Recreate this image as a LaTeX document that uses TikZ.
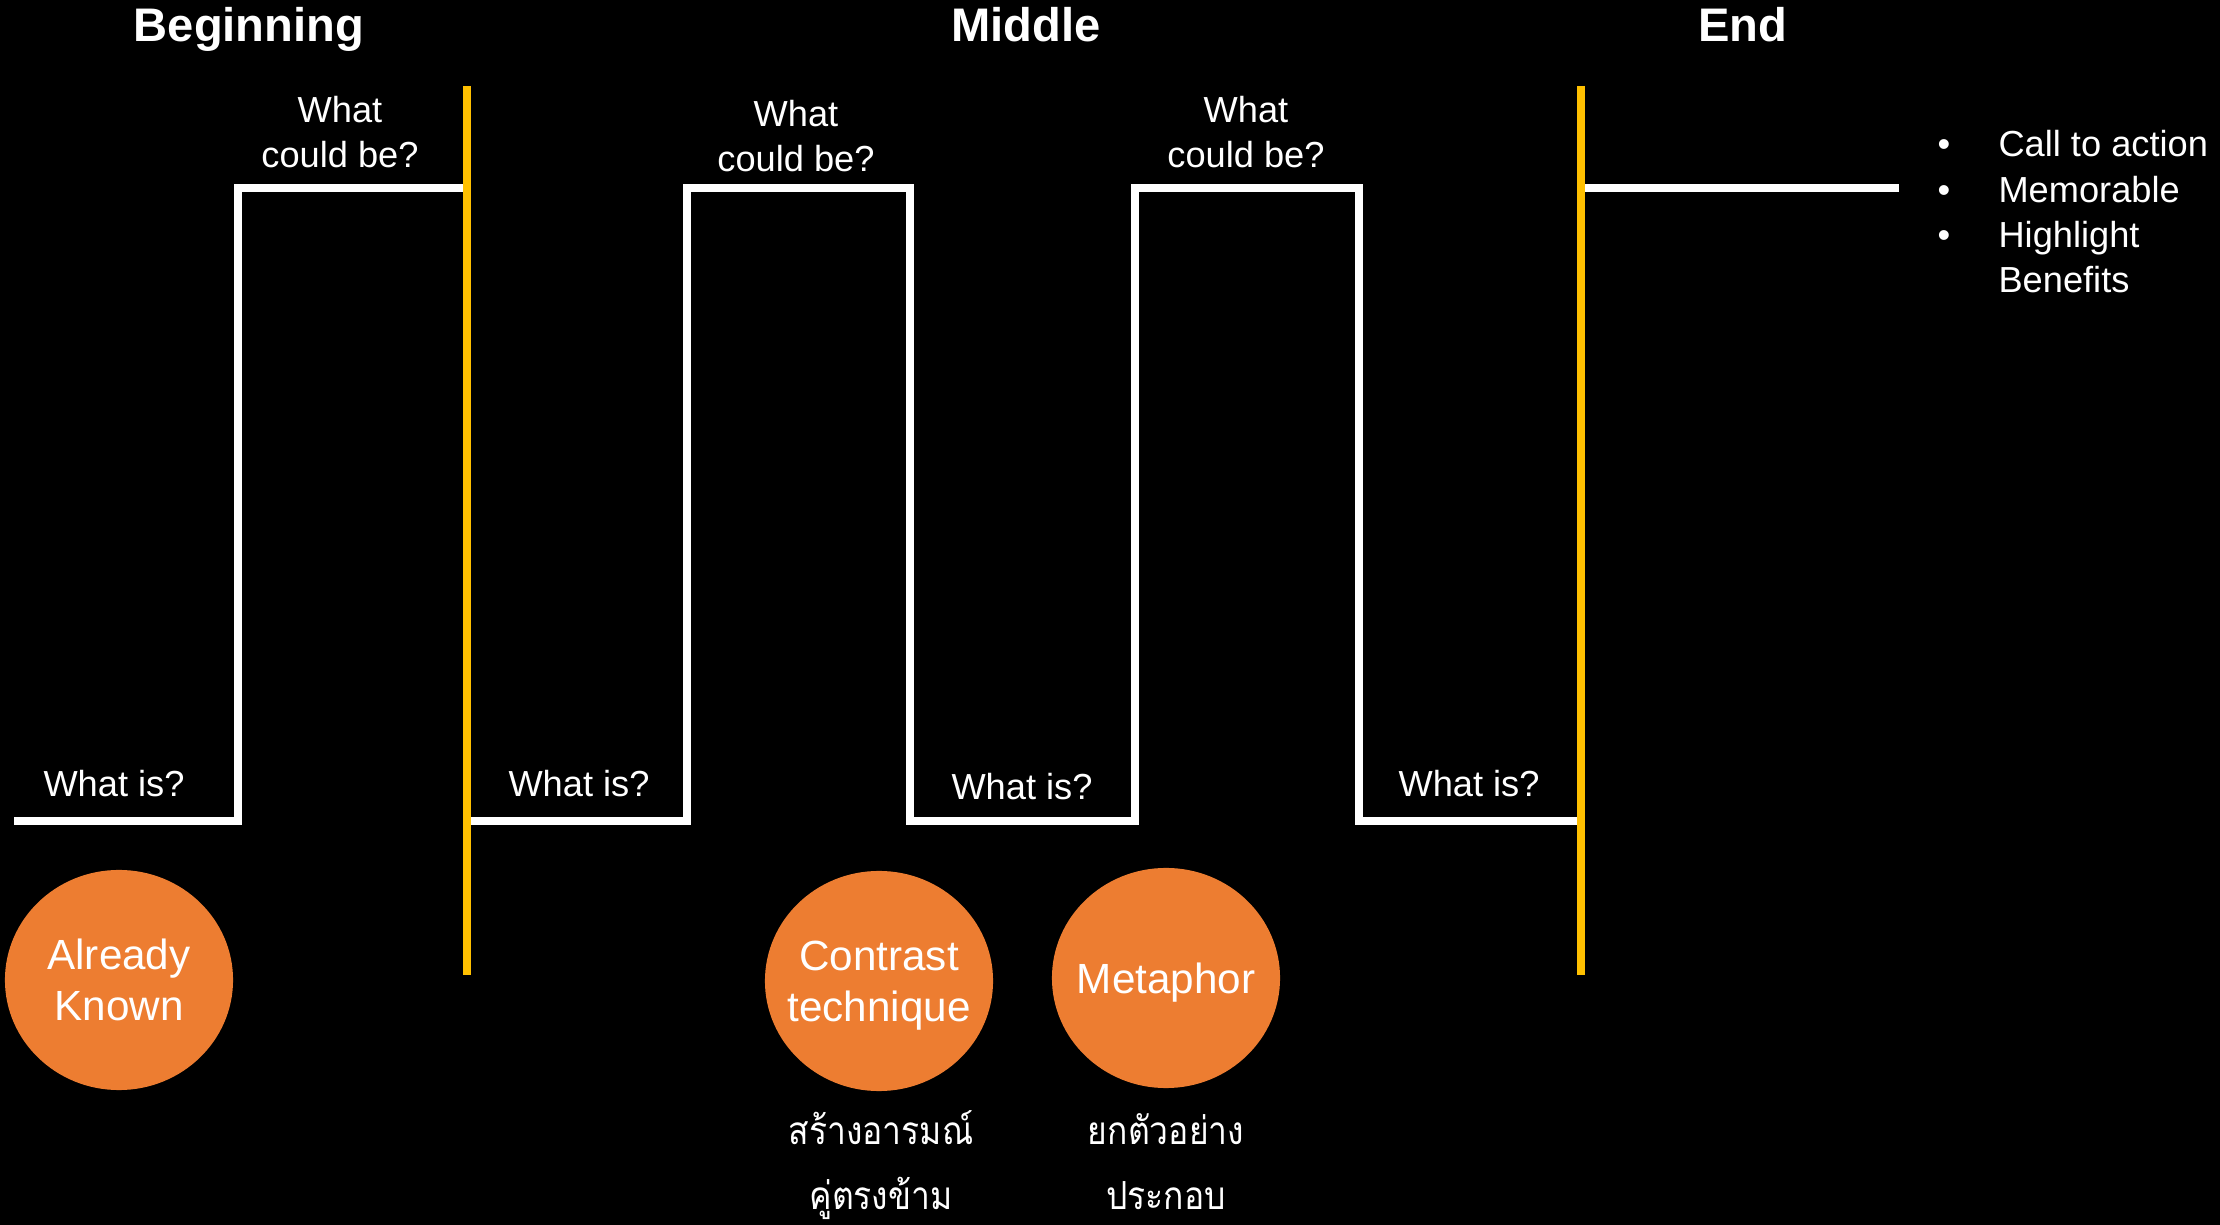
\documentclass[tikz,border=0pt]{standalone}
\usepackage{fontspec}
\setmainfont{Liberation Sans}
\newfontfamily\thaifont[Script=Thai,FakeStretch=0.87]{Loma}
\usetikzlibrary{shapes.geometric}
\definecolor{gold}{HTML}{FFC000}
\definecolor{bubbleorange}{HTML}{ED7D31}
\tikzset{
  wave/.style={draw=white, line width=2pt, line join=miter},
  divider/.style={draw=gold, line width=2pt},
  lbl/.style={text=white, inner sep=0pt, align=center, font=\fontsize{10.3}{12.8}\selectfont},
  heading/.style={text=white, inner sep=0pt, font=\bfseries\fontsize{13.4}{16}\selectfont},
  bubble/.style={ellipse, fill=bubbleorange, text=white, inner sep=-30pt,
    minimum width=2.28cm, minimum height=2.2cm, align=center, text depth=0pt,
    font=\fontsize{12}{14.5}\selectfont},
  thai/.style={text=white, inner sep=0pt, font=\thaifont\fontsize{11}{13}\selectfont}
}
\begin{document}
\begin{tikzpicture}[x=0.01cm, y=-0.01cm]
\fill[black] (0,0) rectangle (2220,1225);
\useasboundingbox (0,0) rectangle (2220,1225);

% headings
\node[heading, anchor=base] (hbeg) at (249,42) {Beginning};
\node[heading, anchor=base] (hmid) at (1026,42) {Middle};
\node[heading, anchor=base] (hend) at (1743,42) {End};

% step wave
\draw[wave] (14,821) -- (238,821) -- (238,188) -- (467,188) -- (467,821)
  -- (687,821) -- (687,188) -- (910,188) -- (910,821) -- (1135,821)
  -- (1135,188) -- (1359,188) -- (1359,821) -- (1581,821) -- (1581,188) -- (1899,188);

% dividers
\coordinate (d1top) at (467,86);
\coordinate (d1bot) at (467,975);
\coordinate (d2top) at (1581,86);
\coordinate (d2bot) at (1581,975);
\draw[divider] (d1top) -- (d1bot);
\draw[divider] (d2top) -- (d2bot);

% labels
\node[lbl, anchor=base] (is1) at (114,797) {What is?};
\node[lbl, anchor=base] (is2) at (579,797) {What is?};
\node[lbl, anchor=base] (is3) at (1022,800) {What is?};
\node[lbl, anchor=base] (is4) at (1469,797) {What is?};
\node[lbl, anchor=north] (cb1) at (340,96) {What\\could be?};
\node[lbl, anchor=north] (cb2) at (796,100) {What\\could be?};
\node[lbl, anchor=north] (cb3) at (1246,96) {What\\could be?};

% bubbles
\node[bubble] (known) at (119,980) {Already\\Known};
\node[bubble] (contrast) at (879,981) {Contrast\\technique};
\node[bubble] (metaphor) at (1166,978) {Metaphor};

% thai captions
\node[thai, anchor=base] (th1) at (881,1145) {สร้างอารมณ์};
\node[thai, anchor=base] (th2) at (881,1210) {คู่ตรงข้าม};
\node[thai, anchor=base] (th3) at (1166,1145) {ยกตัวอย่าง};
\node[thai, anchor=base] (th4) at (1166,1210) {ประกอบ};

% end list
\node[lbl, anchor=base west, align=left] (endlist) at (1937,157)
 {\begin{tabular}[t]{@{}l@{\hspace{13.7pt}}l@{}}
  • & Call to action\\
  • & Memorable\\
  • & Highlight\\
    & Benefits
  \end{tabular}};
\end{tikzpicture}
\end{document}
